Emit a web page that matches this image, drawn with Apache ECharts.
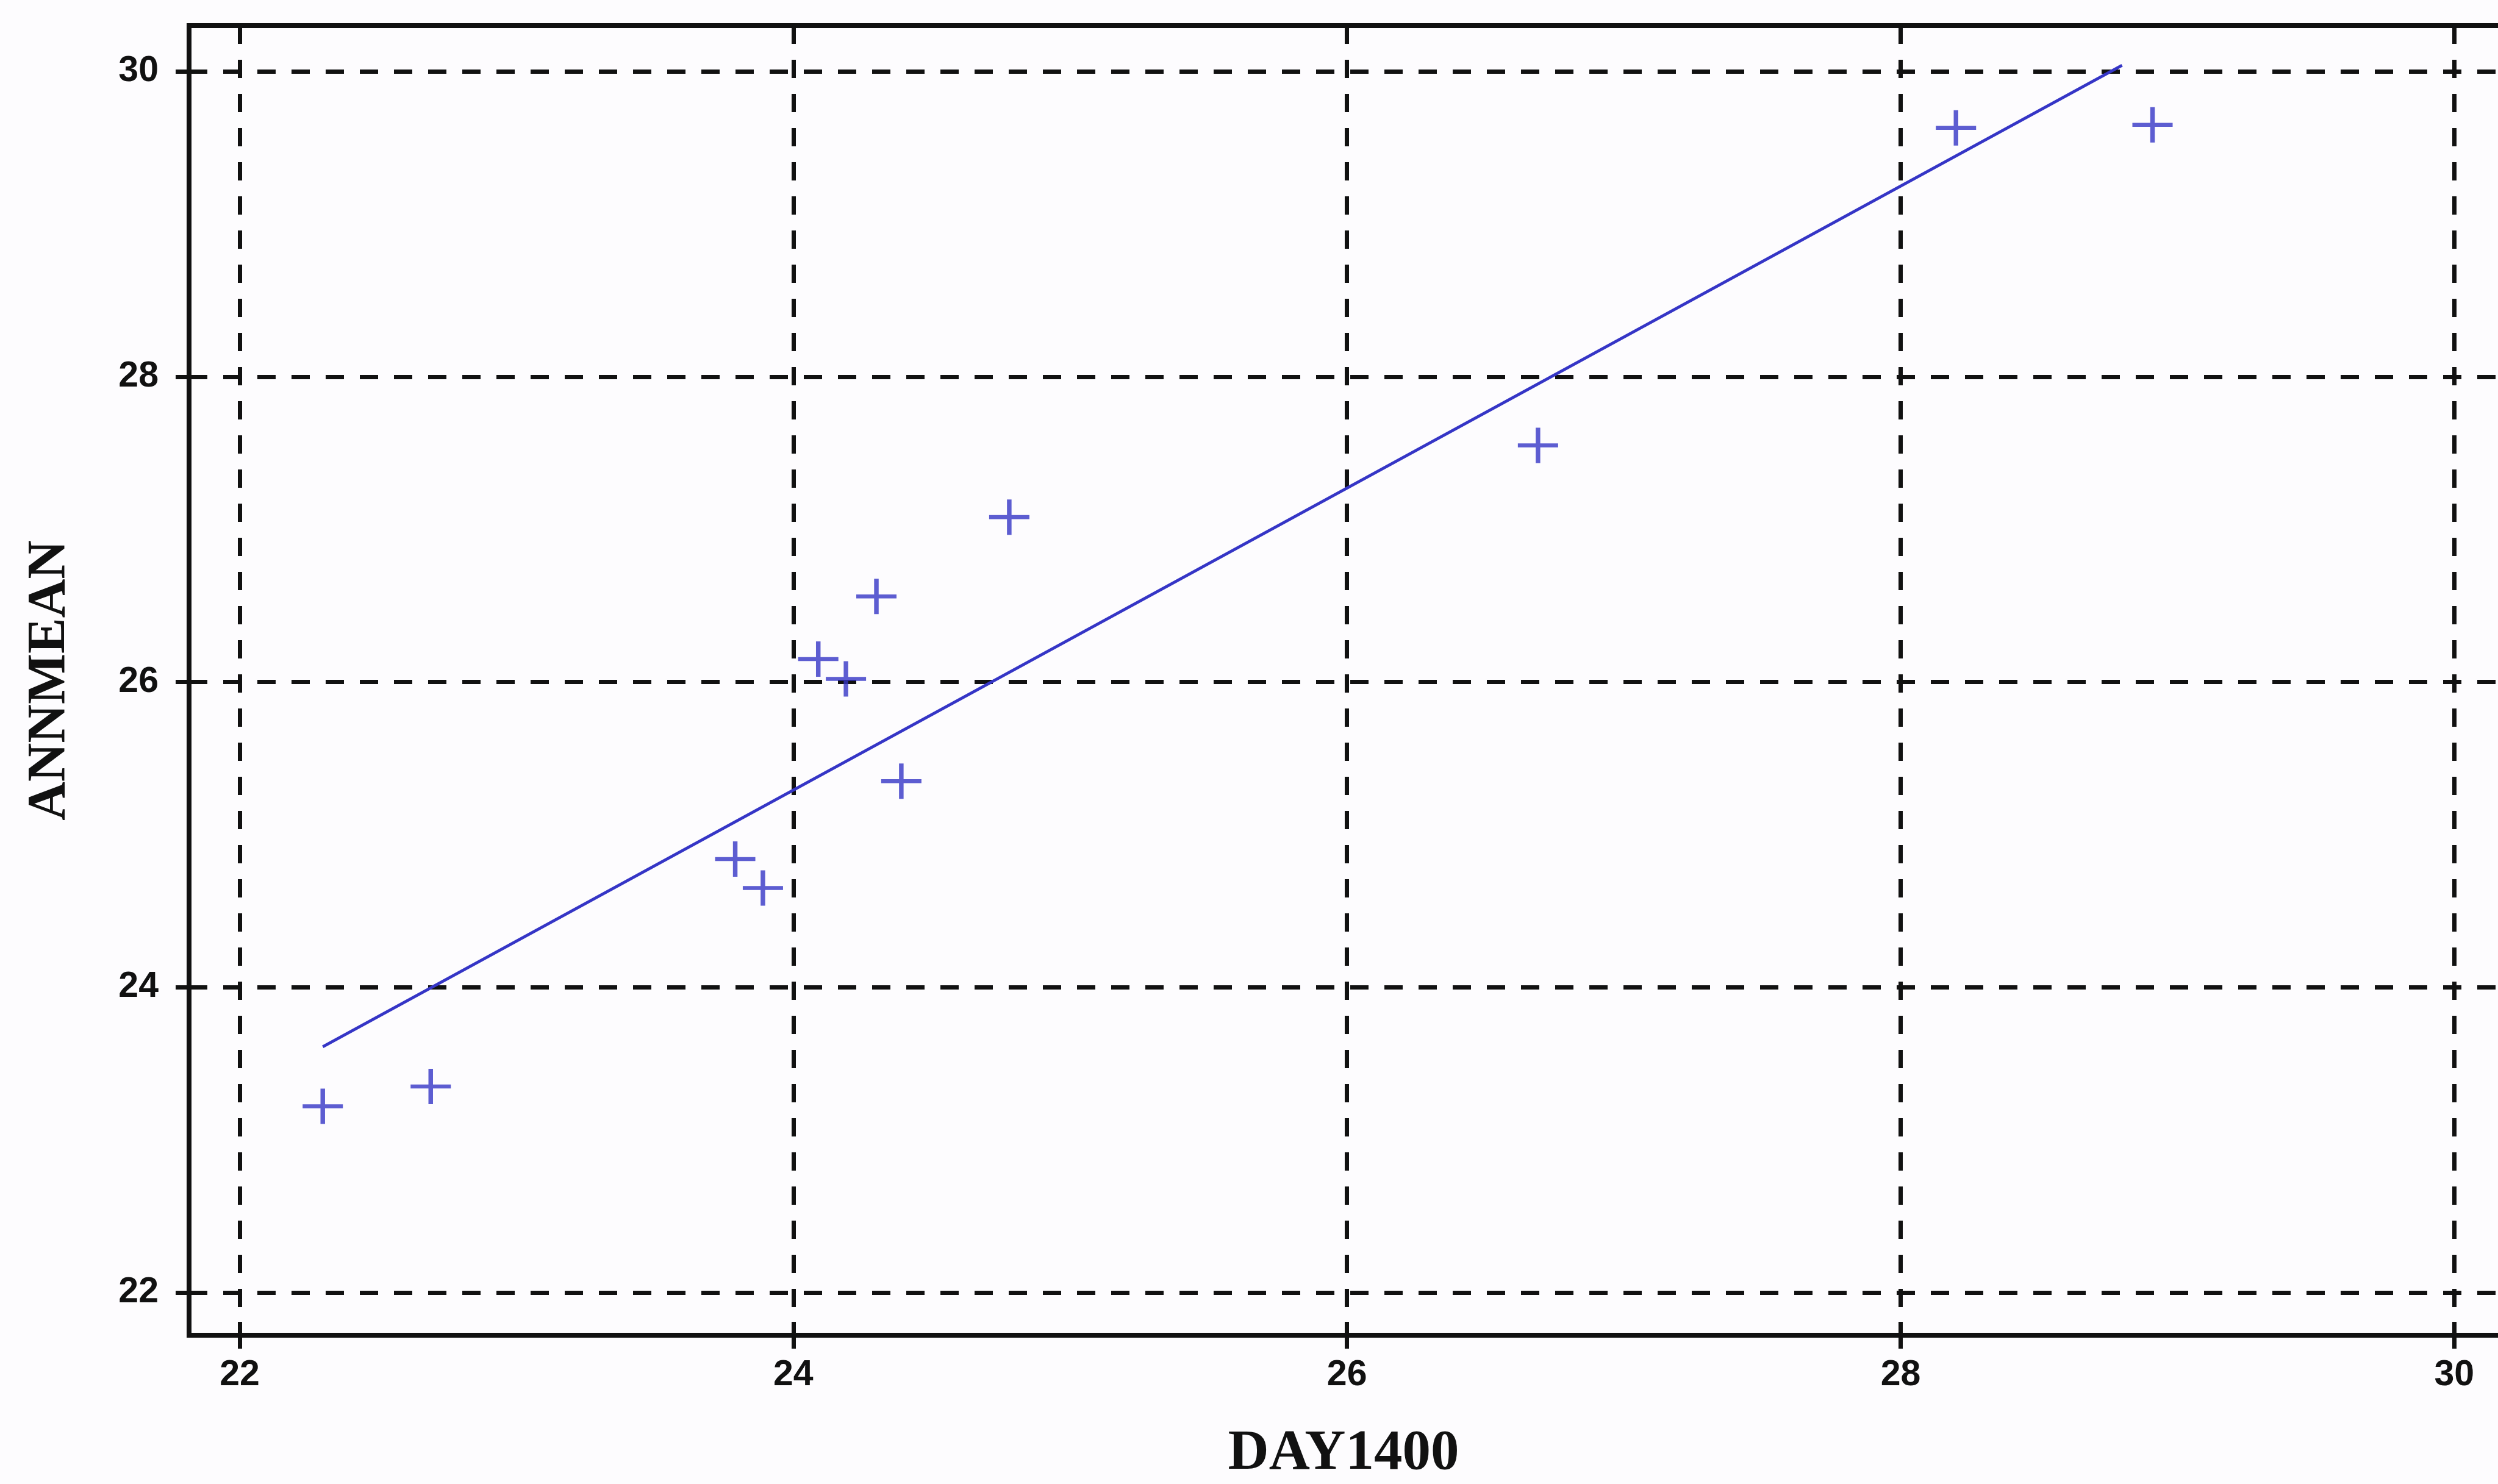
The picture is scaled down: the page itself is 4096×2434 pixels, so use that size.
<!DOCTYPE html>
<html><head><meta charset="utf-8">
<script src="https://cdn.jsdelivr.net/npm/echarts@6/dist/echarts.min.js"></script>
<style>html,body{margin:0;padding:0;background:#fdfcfe}#c{width:4096px;height:2434px}</style>
</head><body><div id="c"></div>
<script>
// Data
const day1400 = [22.30, 22.69, 23.79, 23.89, 24.09, 24.19, 24.30, 24.39, 24.78, 26.69, 28.20, 28.91];
const annmean = [23.22, 23.35, 24.84, 24.65, 26.15, 26.02, 26.56, 25.35, 27.08, 27.55, 29.63, 29.65];
const fitX = [22.30, 28.80];
const fitY = [23.61, 30.04];
const xTicks = [22, 24, 26, 28, 30];
const yTicks = [22, 24, 26, 28, 30];

const X_MIN = 21.817, X_MAX = 30.255, Y_MIN = 21.72, Y_MAX = 30.30;
const INK = '#111111', BLUE = '#3535c6';

const points = day1400.map((x, i) => [x, annmean[i]]);
const fit = fitX.map((x, i) => [x, fitY[i]]);

const dash = {color: INK, width: 7, type: [30, 26]};
const tickStyle = {color: INK, width: 7};
const labelFont = {color: INK, fontFamily: 'Liberation Sans', fontWeight: 'bold', fontSize: 59};
const titleFont = {fontFamily: 'Liberation Serif', fontWeight: 'bold', fontSize: 93, color: INK};

const chart = echarts.init(document.getElementById('c'), null, {renderer: 'canvas'});
chart.setOption({
  backgroundColor: '#fdfcfe',
  animation: false,
  grid: {left: 310, top: 42, width: 3830, height: 2148, show: true, outerBoundsMode: 'none',
         containLabel: false, borderColor: INK, borderWidth: 8, backgroundColor: 'transparent'},
  xAxis: [{
    type: 'value', min: X_MIN, max: X_MAX, position: 'bottom',
    axisLine: {show: false},
    axisTick: {show: true, inside: false, length: 22, customValues: xTicks, lineStyle: tickStyle},
    axisLabel: Object.assign({customValues: xTicks, margin: 36}, labelFont),
    splitLine: {show: true, lineStyle: dash},
    name: 'DAY1400', nameLocation: 'middle', nameGap: 148,
    nameTextStyle: Object.assign({}, titleFont, {padding: [0, 44, 0, 0]})
  }, {
    type: 'value', min: X_MIN, max: X_MAX, position: 'bottom',
    axisLine: {show: false},
    axisTick: {show: true, inside: true, length: 22, customValues: xTicks, lineStyle: tickStyle},
    axisLabel: {show: false}, splitLine: {show: false}
  }],
  yAxis: [{
    type: 'value', min: Y_MIN, max: Y_MAX, position: 'left',
    axisLine: {show: false},
    axisTick: {show: true, inside: false, length: 22, customValues: yTicks, lineStyle: tickStyle},
    axisLabel: Object.assign({customValues: yTicks, margin: 50}, labelFont),
    splitLine: {show: true, lineStyle: dash},
    name: 'ANNMEAN', nameLocation: 'middle', nameGap: 184,
    nameTextStyle: Object.assign({}, titleFont, {fontSize: 88})
  }, {
    type: 'value', min: Y_MIN, max: Y_MAX, position: 'left',
    axisLine: {show: false},
    axisTick: {show: true, inside: true, length: 22, customValues: yTicks, lineStyle: tickStyle},
    axisLabel: {show: false}, splitLine: {show: false}
  }],
  series: [{
    type: 'line', data: fit, showSymbol: false, z: 3,
    lineStyle: {color: BLUE, width: 5}, emphasis: {disabled: true}
  }, {
    type: 'scatter', data: points, z: 4,
    symbol: 'path://M50 0L50 100M0 50L100 50', symbolSize: [66, 58],
    itemStyle: {color: 'rgba(0,0,0,0)', borderColor: BLUE, borderWidth: 7},
    emphasis: {disabled: true}
  }]
});
</script>
</body></html>
